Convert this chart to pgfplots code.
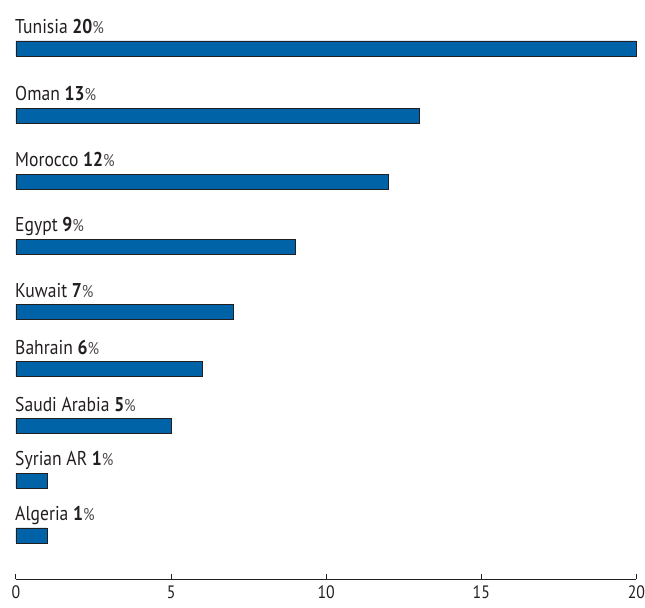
\documentclass[border=0pt]{standalone}
\usepackage{pgfplots}
\pgfplotsset{compat=1.18}
\usepackage{fontspec}
\setmainfont{PT Sans}[FakeStretch=0.88]
\definecolor{barblue}{HTML}{0063A7}
\definecolor{txt}{HTML}{231F20}
\DeclareRobustCommand\pct{{\color{txt!80}\fontsize{17}{17}\selectfont\%}}
\begin{document}
\begin{tikzpicture}
\begin{axis}[
  scale only axis,
  width=621pt, height=580pt,
  xmin=0, xmax=20, ymin=28, ymax=608,
  axis y line=none,
  axis x line*=bottom,
  x axis line style={txt, line width=1pt},
  xtick={0,5,10,15,20},
  tick align=inside,
  major tick length=5.5pt,
  tick style={txt, line width=1pt},
  xticklabel style={font=\fontsize{18}{18}\selectfont, text=txt, inner xsep=0pt, yshift=-3pt},
  /pgf/number format/assume math mode=true,
  clip=false,
]
\path (axis cs:-0.515,0) rectangle (axis cs:20.258,608);
\addplot[xbar, bar width=15, fill=barblue, draw=txt, line width=0.8pt] coordinates {
(20,559.5) (13,492) (12,426) (9,361) (7,295.5) (6,238.5) (5,181.5) (1,127) (1,72)
};
\addplot[only marks, mark=none, point meta=explicit symbolic,
  nodes near coords,
  nodes near coords style={anchor=base west, inner sep=0pt, text=txt, font=\fontsize{20}{20}\selectfont}]
coordinates {
(-0.03,574.5) [Tunisia \textbf{20}\pct]
(-0.03,507) [Oman \textbf{13}\pct]
(-0.03,441) [Morocco \textbf{12}\pct]
(-0.03,376) [Egypt \textbf{9}\pct]
(-0.03,310.5) [Kuwait \textbf{7}\pct]
(-0.03,253.5) [Bahrain \textbf{6}\pct]
(-0.03,196.5) [Saudi Arabia \textbf{5}\pct]
(-0.03,142) [Syrian AR \textbf{1}\pct]
(-0.03,87) [Algeria \textbf{1}\pct]
};
\end{axis}
\end{tikzpicture}
\end{document}
